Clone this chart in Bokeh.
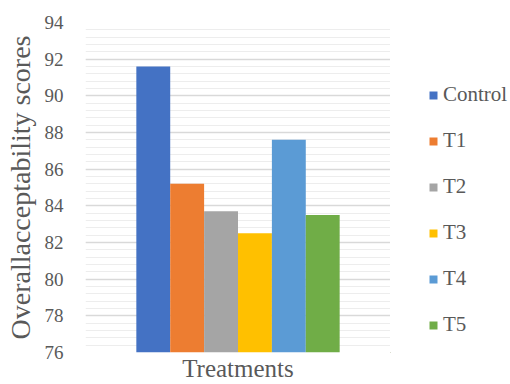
from bokeh.plotting import figure
from bokeh.layouts import row
from bokeh.models import Range1d, SingleIntervalTicker, FixedTicker, Legend, LegendItem
from bokeh.embed import file_html
from bokeh.resources import INLINE

treatments = ["Control", "T1", "T2", "T3", "T4", "T5"]
scores = [91.6, 85.2, 83.7, 82.5, 87.6, 83.5]
colors = ["#4472C4", "#ED7D31", "#A5A5A5", "#FFC000", "#5B9BD5", "#70AD47"]

FONT = "Liberation Serif"
TEXT_COLOR = "#595959"

# main chart
p = figure(width=390, height=384, output_backend="svg", toolbar_location=None,
           x_range=Range1d(-2, 7), y_range=Range1d(76, 94),
           min_border_left=85, min_border_right=0,
           min_border_top=22, min_border_bottom=32)
p.outline_line_color = None

for i, t in enumerate(treatments):
    p.vbar(x=[i], top=[scores[i]], bottom=76, width=1.0,
           color=colors[i], line_color=None)

# y axis
p.yaxis.ticker = SingleIntervalTicker(interval=2, num_minor_ticks=5)
p.yaxis.axis_line_color = None
p.yaxis.major_tick_line_color = None
p.yaxis.minor_tick_line_color = None
p.yaxis.major_tick_out = 0
p.yaxis.minor_tick_out = 0
p.yaxis.major_label_text_font = FONT
p.yaxis.major_label_text_font_size = "19px"
p.yaxis.major_label_text_color = TEXT_COLOR
p.yaxis.major_label_standoff = 22
p.yaxis.axis_label = "Overallacceptability scores"
p.yaxis.axis_label_text_font = FONT
p.yaxis.axis_label_text_font_style = "normal"
p.yaxis.axis_label_text_font_size = "28px"
p.yaxis.axis_label_text_color = TEXT_COLOR
p.yaxis.axis_label_standoff = 6

# x axis
p.xaxis.ticker = FixedTicker(ticks=[])
p.xaxis.axis_line_color = None
p.xaxis.major_tick_line_color = None
p.xaxis.minor_tick_line_color = None
p.xaxis.major_tick_out = 0
p.xaxis.minor_tick_out = 0
p.xaxis.major_label_standoff = 0
p.xaxis.axis_label = "Treatments"
p.xaxis.axis_label_text_font = FONT
p.xaxis.axis_label_text_font_style = "normal"
p.xaxis.axis_label_text_font_size = "25px"
p.xaxis.axis_label_text_color = TEXT_COLOR
p.xaxis.axis_label_standoff = 2

# grid
p.xgrid.grid_line_color = None
p.ygrid.grid_line_color = "#D9D9D9"
p.ygrid.grid_line_width = 1.5
p.ygrid.minor_grid_line_color = "#EDEDED"
p.ygrid.minor_grid_line_width = 1

# legend panel: its bars lie far outside its ranges and only feed the legend swatches
lg = figure(width=120, height=384, output_backend="svg", toolbar_location=None,
            x_range=Range1d(100, 101), y_range=Range1d(200, 201),
            x_axis_location=None, y_axis_location=None, min_border=0)
lg.outline_line_color = None
lg.grid.visible = False

items = []
for i, (t, c) in enumerate(zip(treatments, colors)):
    r = lg.vbar(x=[i], top=[scores[i]], bottom=76, width=1.0, color=c, line_color=None)
    items.append(LegendItem(label=t, renderers=[r]))

legend = Legend(items=items, orientation="vertical", location=(38, 15))
legend.border_line_color = None
legend.background_fill_alpha = 0
legend.margin = 0
legend.padding = 0
legend.glyph_width = 10
legend.glyph_height = 10
legend.label_height = 24
legend.spacing = 21
legend.label_standoff = 5
legend.label_text_font = FONT
legend.label_text_font_size = "21px"
legend.label_text_color = TEXT_COLOR
lg.add_layout(legend)

layout = row(p, lg)
open("out.html", "w").write(file_html(layout, INLINE))
